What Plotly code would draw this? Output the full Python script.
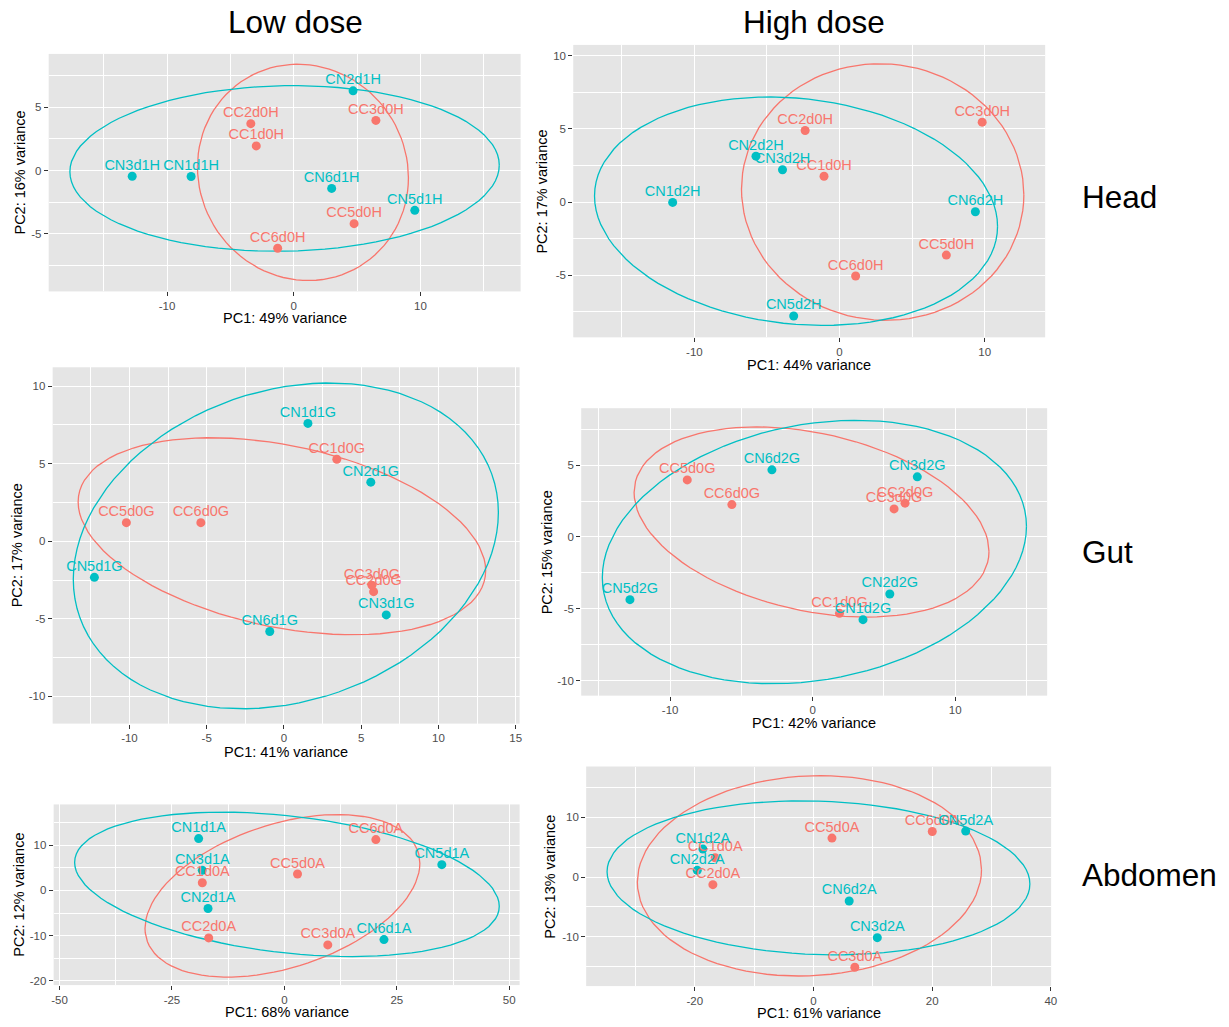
import numpy as np
import plotly.graph_objects as go

W, H = 1229, 1027
RED, TEAL = "#F8766D", "#00BFC4"
FONT = "Liberation Sans, Arial, Helvetica, sans-serif"

# ---------------- data ----------------
# Head, low dose
head_low_names = ["CC1d0H", "CC2d0H", "CC3d0H", "CC5d0H", "CC6d0H",
                  "CN1d1H", "CN2d1H", "CN3d1H", "CN5d1H", "CN6d1H"]
head_low_pc1 = [-2.96, -3.39, 6.48, 4.76, -1.27, -8.10, 4.68, -12.75, 9.55, 2.99]
head_low_pc2 = [1.94, 3.69, 3.95, -4.19, -6.13, -0.47, 6.28, -0.45, -3.14, -1.41]

# Head, high dose
head_high_names = ["CC1d0H", "CC2d0H", "CC3d0H", "CC5d0H", "CC6d0H",
                   "CN1d2H", "CN2d2H", "CN3d2H", "CN5d2H", "CN6d2H"]
head_high_pc1 = [-1.07, -2.37, 9.83, 7.36, 1.11, -11.50, -5.76, -3.93, -3.16, 9.36]
head_high_pc2 = [1.77, 4.89, 5.46, -3.62, -5.05, -0.02, 3.14, 2.21, -7.78, -0.66]

# Gut, low dose
gut_low_names = ["CC1d0G", "CC2d0G", "CC3d0G", "CC5d0G", "CC6d0G",
                 "CN1d1G", "CN2d1G", "CN3d1G", "CN5d1G", "CN6d1G"]
gut_low_pc1 = [3.42, 5.80, 5.69, -10.20, -5.38, 1.55, 5.62, 6.62, -12.27, -0.92]
gut_low_pc2 = [5.29, -3.25, -2.83, 1.20, 1.20, 7.60, 3.81, -4.75, -2.33, -5.82]

# Gut, high dose
gut_high_names = ["CC1d0G", "CC2d0G", "CC3d0G", "CC5d0G", "CC6d0G",
                  "CN1d2G", "CN2d2G", "CN3d2G", "CN5d2G", "CN6d2G"]
gut_high_pc1 = [1.88, 6.48, 5.71, -8.80, -5.67, 3.53, 5.41, 7.34, -12.82, -2.86]
gut_high_pc2 = [-5.32, 2.35, 1.95, 3.97, 2.25, -5.76, -3.97, 4.18, -4.37, 4.67]

# Abdomen, low dose
abd_low_names = ["CC1d0A", "CC2d0A", "CC3d0A", "CC5d0A", "CC6d0A",
                 "CN1d1A", "CN2d1A", "CN3d1A", "CN5d1A", "CN6d1A"]
abd_low_pc1 = [-18.25, -16.83, 9.65, 2.92, 20.34, -19.07, -16.98, -18.25, 35.00, 22.14]
abd_low_pc2 = [1.70, -10.52, -12.07, 3.63, 11.26, 11.48, -4.00, 4.44, 5.70, -10.89]

# Abdomen, high dose
abd_high_names = ["CC1d0A", "CC2d0A", "CC3d0A", "CC5d0A", "CC6d0A",
                  "CN1d2A", "CN2d2A", "CN3d2A", "CN5d2A", "CN6d2A"]
abd_high_pc1 = [-16.56, -16.95, 6.97, 3.12, 20.02, -18.63, -19.58, 10.76, 25.65, 6.02]
abd_high_pc2 = [3.24, -1.28, -15.14, 6.54, 7.65, 4.69, 1.12, -10.17, 7.71, -4.02]

# axis labels and tick labels
x_titles = ["PC1: 49% variance", "PC1: 44% variance", "PC1: 41% variance",
            "PC1: 42% variance", "PC1: 68% variance", "PC1: 61% variance"]
y_titles = ["PC2: 16% variance", "PC2: 17% variance", "PC2: 17% variance",
            "PC2: 15% variance", "PC2: 12% variance", "PC2: 13% variance"]
x_ticks = [[-10, 0, 10], [-10, 0, 10], [-10, -5, 0, 5, 10, 15],
           [-10, 0, 10], [-50, -25, 0, 25, 50], [-20, 0, 20, 40]]
y_ticks = [[-5, 0, 5], [-5, 0, 5, 10], [-10, -5, 0, 5, 10],
           [-10, -5, 0, 5], [-20, -10, 0, 10], [-10, 0, 10]]
col_titles = ["Low dose", "High dose"]
row_titles = ["Head", "Gut", "Abdomen"]

# ---------------- layout settings ----------------
# panel boxes in pixels: left, top, right, bottom
boxes = [(47, 54, 522, 292), (575, 45, 1050, 338),
         (51, 368, 521, 725), (583, 409, 1052, 697),
         (52, 806, 521, 987), (588, 768, 1056, 988)]
x_ranges = [(-19.34, 17.9), (-18.35, 14.17), (-14.97, 15.25),
            (-16.24, 16.45), (-51.3, 52.3), (-38.3, 40.05)]
y_ranges = [(-9.53, 9.19), (-9.24, 10.74), (-11.76, 11.22),
            (-11.05, 8.96), (-20.96, 19.04), (-18.3, 18.55)]
xtitle_off = [27, 28, 28, 27, 27, 27]
ytitle_off = [29, 31, 35, 35, 35, 36]
ELLIPSE_LEVEL = 0.7

panels = [
    (head_low_names, head_low_pc1, head_low_pc2),
    (head_high_names, head_high_pc1, head_high_pc2),
    (gut_low_names, gut_low_pc1, gut_low_pc2),
    (gut_high_names, gut_high_pc1, gut_high_pc2),
    (abd_low_names, abd_low_pc1, abd_low_pc2),
    (abd_high_names, abd_high_pc1, abd_high_pc2),
]


def ellipse_xy(px, py, level=ELLIPSE_LEVEL, segments=100):
    """Normal-theory data ellipse (as ggplot2 stat_ellipse(type='norm'))."""
    pts = np.column_stack([px, py]).astype(float)
    n = len(pts)
    center = pts.mean(axis=0)
    cov = np.cov(pts, rowvar=False)
    dfn, dfd = 2, n - 1
    qf = dfd / 2.0 * ((1 - level) ** (-2.0 / dfd) - 1)  # F(2, dfd) quantile
    radius = np.sqrt(dfn * qf)
    ang = np.arange(segments + 1) * 2 * np.pi / segments
    circle = np.column_stack([np.cos(ang), np.sin(ang)])
    R = np.linalg.cholesky(cov).T
    e = center + radius * (circle @ R)
    return e[:, 0], e[:, 1]


def minor_vals(ticks):
    step = ticks[1] - ticks[0]
    ext = [ticks[0] - step] + list(ticks) + [ticks[-1] + step]
    return [(a + b) / 2 for a, b in zip(ext[:-1], ext[1:])]


def fmt(v):
    return str(int(v)) if float(v).is_integer() else str(v)


fig = go.Figure()
annotations = []
layout_axes = {}
colors = {"CC": RED, "CN": TEAL}

for i, (names, pc1, pc2) in enumerate(panels):
    k = "" if i == 0 else str(i + 1)
    xa, ya = "x" + k, "y" + k
    groups = {"CC": ([], [], []), "CN": ([], [], [])}
    for nm, a, b in zip(names, pc1, pc2):
        g = groups[nm[:2]]
        g[0].append(nm); g[1].append(a); g[2].append(b)
    # ellipses
    for gname in ["CC", "CN"]:
        ex, ey = ellipse_xy(groups[gname][1], groups[gname][2])
        fig.add_trace(go.Scatter(x=ex, y=ey, mode="lines", xaxis=xa, yaxis=ya,
                                 line=dict(color=colors[gname], width=1.3),
                                 hoverinfo="skip", showlegend=False))
    # points
    for gname in ["CC", "CN"]:
        fig.add_trace(go.Scatter(x=groups[gname][1], y=groups[gname][2], mode="markers",
                                 xaxis=xa, yaxis=ya,
                                 marker=dict(color=colors[gname], size=9),
                                 showlegend=False))
    # labels (tiny invisible markers give the small gap above each point)
    for gname in ["CC", "CN"]:
        fig.add_trace(go.Scatter(x=groups[gname][1], y=groups[gname][2], mode="markers+text",
                                 text=groups[gname][0], textposition="top center",
                                 xaxis=xa, yaxis=ya,
                                 marker=dict(size=3, opacity=0),
                                 textfont=dict(color=colors[gname], size=14.5, family=FONT),
                                 hoverinfo="skip", showlegend=False))

    L, T, R_, B = boxes[i]
    xd = [L / W, R_ / W]
    yd = [1 - B / H, 1 - T / H]
    common = dict(showgrid=True, gridcolor="white", gridwidth=1.2, zeroline=False,
                  ticks="outside", ticklen=4, tickwidth=1, tickcolor="#333333",
                  tickfont=dict(size=11.5, color="#4D4D4D", family=FONT),
                  showline=False, tickmode="array")
    layout_axes["xaxis" + k] = dict(common, domain=xd, anchor=ya, range=list(x_ranges[i]),
                                    tickvals=x_ticks[i], ticktext=[fmt(v) for v in x_ticks[i]],
                                    minor=dict(tickmode="array", tickvals=minor_vals(x_ticks[i]),
                                               showgrid=True, gridcolor="white", gridwidth=0.6,
                                               ticks=""))
    layout_axes["yaxis" + k] = dict(common, domain=yd, anchor=xa, range=list(y_ranges[i]),
                                    tickvals=y_ticks[i], ticktext=[fmt(v) for v in y_ticks[i]],
                                    minor=dict(tickmode="array", tickvals=minor_vals(y_ticks[i]),
                                               showgrid=True, gridcolor="white", gridwidth=0.6,
                                               ticks=""))
    # axis titles
    annotations.append(dict(text=x_titles[i], x=(L + R_) / 2 / W, y=1 - (B + xtitle_off[i]) / H,
                            xref="paper", yref="paper", xanchor="center", yanchor="middle",
                            showarrow=False, font=dict(size=14.5, color="black", family=FONT)))
    annotations.append(dict(text=y_titles[i], x=(L - ytitle_off[i]) / W, y=1 - (T + B) / 2 / H,
                            xref="paper", yref="paper", xanchor="center", yanchor="middle",
                            textangle=-90, showarrow=False,
                            font=dict(size=14.5, color="black", family=FONT)))

# column and row titles
for txt, cx in zip(col_titles, [295.5, 817]):
    annotations.append(dict(text=txt, x=cx / W, y=1 - 22 / H, xref="paper", yref="paper",
                            xanchor="center", yanchor="middle", showarrow=False,
                            font=dict(size=31.5, color="black", family=FONT)))
for txt, cy in zip(row_titles, [197, 553, 877]):
    annotations.append(dict(text=txt, x=1085 / W, y=1 - cy / H, xref="paper", yref="paper",
                            xanchor="left", yanchor="middle", showarrow=False,
                            font=dict(size=31.5, color="black", family=FONT)))

fig.update_layout(width=W, height=H, margin=dict(l=0, r=0, t=0, b=0),
                  paper_bgcolor="white", plot_bgcolor="#E5E5E5",
                  showlegend=False, annotations=annotations, **layout_axes)

fig.write_html("out.html")
